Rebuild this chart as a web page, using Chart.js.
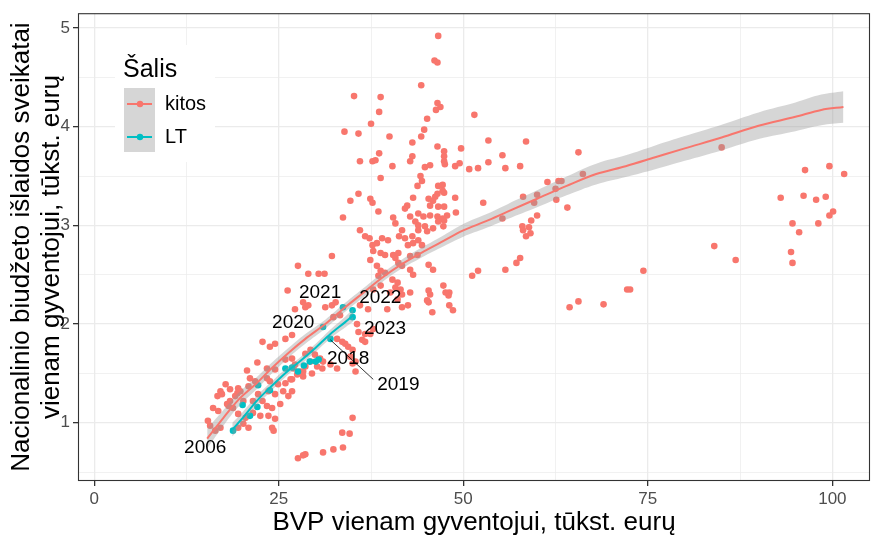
<!DOCTYPE html>
<html>
<head>
<meta charset="utf-8">
<script src="https://cdn.jsdelivr.net/npm/chart.js@4.4.1/dist/chart.umd.min.js"></script>
<style>
html,body{margin:0;padding:0;background:#fff;}
canvas{display:block;}
</style>
</head>
<body>
<canvas id="c" width="875" height="541" style="width:875px;height:541px"></canvas>
<script>
// ---- Data ----
const kitosX = [96.3,99.6,101.6,93.0,96.1,97.8,99.1,100.1,99.6,94.6,98.1,95.5,94.4,94.6,85.0,84.0,86.9,74.4,72.2,72.6,69.0,65.6,64.4,65.6,66.2,
53.4,58.5,49.7,47.4,47.4,47.4,47.5,48.9,49.5,50.8,52.0,53.4,55.3,55.7,57.7,47.2,47.4,48.9,47.4,49.0,47.8,47.4,47.3,52.7,61.4,62.9,63.3,62.5,60.0,58.1,59.6,62.6,64.1,55.3,60.0,59.2,58.0,58.1,58.9,58.5,59.1,57.7,57.2,55.7,52.0,51.2,47.3,48.1,48.0,48.1,48.6,
46.6,46.1,46.5,44.3,35.2,38.8,38.6,46.5,46.9,46.3,51.5,45.1,37.5,33.9,35.8,40.0,44.7,44.3,43.1,46.5,38.6,43.1,42.8,36.0,37.7,38.1,40.4,44.8,45.5,
38.8,44.2,44.4,43.8,46.6,47.2,46.5,46.2,35.8,34.7,37.4,37.7,38.5,43.2,42.4,42.1,45.3,45.9,45.5,46.6,43.9,44.6,45.5,46.5,47.2,42.8,43.5,43.9,44.8,43.9,45.1,45.9,46.6,33.7,40.5,40.8,41.7,41.3,42.1,43.1,43.2,43.9,44.4,42.5,36.0,36.7,37.3,37.7,38.3,39.0,39.8,37.8,38.8,39.4,37.4,40.8,41.2,41.7,38.3,38.8,38.5,39.4,40.4,41.1,40.8,41.5,42.8,43.2,45.3,45.9,41.7,42.8,45.3,47.6,32.2,
27.6,29.0,30.4,31.2,26.2,28.3,40.5,41.2,42.8,43.8,45.5,45.3,45.8,42.5,40.1,41.1,39.7,37.8,38.8,36.0,37.1,
27.2,28.6,29.0,31.3,32.2,32.7,41.7,45.1,35.6,35.8,36.7,36.3,36.7,32.9,33.6,34.0,34.4,35.0,34.7,35.4,35.0,35.4,31.0,32.0,32.9,29.3,28.6,27.9,29.5,26.8,35.0,33.6,34.6,33.7,32.4,31.0,28.6,28.3,27.6,27.0,27.5,28.3,26.6,30.2,32.4,33.3,37.4,37.8,
22.8,24.5,23.8,25.9,26.8,22.1,20.7,23.4,24.5,25.9,17.8,17.1,16.7,18.4,19.5,19.4,21.1,21.8,20.9,16.1,16.8,18.2,18.8,15.4,15.7,16.4,17.1,19.5,20.2,20.9,19.5,20.5,21.5,22.5,23.8,24.9,25.9,26.8,28.3,23.6,24.5,25.6,26.3,22.8,23.4,24.1,25.2,23.6,24.5,24.1,24.3,28.6,29.3,29.9,30.6,30.9,26.8,27.2,19.8,20.2,19.1,18.0,18.4,21.5,22.2,23.4,17.3];
const kitosY = [3.56,3.60,3.52,3.28,3.30,3.26,3.29,3.14,3.10,3.02,3.02,2.93,2.73,2.62,3.79,2.79,2.65,2.54,2.35,2.35,2.20,2.23,2.17,3.74,3.52,
3.86,3.85,3.78,3.75,3.70,3.65,3.62,3.60,3.63,3.57,3.58,3.64,3.71,3.58,3.60,3.41,3.33,3.28,3.19,3.13,3.10,3.05,2.99,3.23,3.44,3.45,3.45,3.37,3.31,3.29,3.23,3.26,3.18,3.07,3.10,3.05,2.99,2.95,2.98,2.89,2.92,2.67,2.62,2.55,2.54,2.49,2.39,2.32,2.29,2.19,2.14,
4.92,4.67,4.65,4.42,4.31,4.30,4.15,4.24,4.20,4.17,4.12,4.08,4.03,3.95,3.93,3.90,3.97,3.90,3.84,3.80,3.73,3.70,3.65,3.65,3.65,3.66,3.60,3.59,3.61,
3.48,3.50,3.45,3.40,3.40,3.35,3.32,3.29,3.32,3.25,3.27,3.23,3.14,3.28,3.20,3.17,3.27,3.25,3.20,3.19,3.12,3.09,3.10,3.09,3.07,3.09,3.04,3.00,2.99,2.95,2.94,2.97,3.04,3.08,3.08,3.02,2.95,2.89,2.87,2.89,2.82,2.85,2.80,2.80,2.95,2.89,2.87,2.80,2.82,2.87,2.85,2.74,2.72,2.70,2.65,2.67,2.62,2.59,2.59,2.54,2.49,2.52,2.45,2.42,2.37,2.35,2.55,2.50,2.60,2.55,2.30,2.32,2.34,2.32,2.69,
2.59,2.51,2.51,2.51,2.34,2.22,2.70,2.72,2.69,2.70,2.30,2.22,2.12,2.19,2.32,2.25,2.15,2.35,2.39,2.19,2.15,
2.15,2.17,2.19,2.17,2.19,2.22,2.17,2.24,2.00,1.92,1.90,1.84,1.82,1.85,1.82,1.80,1.77,1.74,1.67,1.62,1.60,1.52,1.62,1.59,1.55,1.62,1.57,1.52,1.50,1.32,1.05,0.90,0.89,0.75,0.73,0.70,0.68,0.67,0.64,1.55,1.49,1.47,1.44,1.57,2.07,2.09,1.90,1.95,
1.82,1.80,1.77,1.85,1.89,1.61,1.53,1.55,1.54,1.64,1.39,1.32,1.27,1.34,1.35,1.30,1.45,1.42,1.37,1.15,1.12,1.17,1.15,1.02,0.97,0.92,0.95,0.95,0.99,0.95,1.09,1.05,1.10,1.07,1.42,1.39,1.40,1.44,1.52,1.32,1.29,1.32,1.27,1.22,1.17,1.15,1.19,1.07,1.04,0.95,0.92,1.70,1.74,1.69,1.65,1.55,1.65,1.59,1.32,1.22,1.27,1.19,1.22,1.22,1.29,1.45,1.29];

const ltYears = [2006,2007,2008,2009,2010,2011,2012,2013,2014,2015,2016,2017,2018,2019,2020,2021,2022,2023];
const ltX = [18.8,20.1,21.1,22.1,22.2,23.8,25.9,26.8,27.6,28.4,29.2,30.0,30.4,32.0,31.0,33.7,35.0,35.0];
const ltY = [0.92,1.18,1.07,1.16,1.38,1.33,1.55,1.56,1.52,1.58,1.62,1.62,1.64,1.85,1.97,2.17,2.14,2.07];

// smooth curves with confidence bands
const kitosSmoothX = [15.3,17.5,19.5,22,24,26.5,28.6,31.3,34,36.5,39,41.5,44,47,50,53,56,60,64,68,72,76,80,85,90,95,98.5,101.5];
const kitosSmoothY = [0.84,1.05,1.23,1.40,1.55,1.72,1.85,2.00,2.17,2.32,2.47,2.60,2.71,2.83,2.95,3.04,3.14,3.27,3.40,3.52,3.60,3.69,3.78,3.89,4.01,4.10,4.17,4.20];
const kitosLo = [0.74,0.97,1.16,1.34,1.495,1.67,1.80,1.955,2.125,2.275,2.425,2.555,2.66,2.775,2.885,2.97,3.065,3.185,3.305,3.415,3.49,3.57,3.655,3.76,3.875,3.955,4.015,4.04];
const kitosHi = [0.94,1.13,1.30,1.46,1.605,1.77,1.90,2.045,2.215,2.365,2.515,2.645,2.76,2.885,3.015,3.11,3.215,3.355,3.495,3.625,3.71,3.81,3.905,4.02,4.145,4.245,4.325,4.36];

const ltSmoothX = [18.7,20,22,24,26,28,30,32,34,35.1];
const ltSmoothY = [0.93,1.04,1.22,1.37,1.51,1.63,1.76,1.90,2.02,2.09];
const ltLo = [0.86,0.98,1.17,1.325,1.47,1.59,1.72,1.855,1.965,2.025];
const ltHi = [1.00,1.10,1.27,1.415,1.55,1.67,1.80,1.945,2.075,2.155];

// labelled years and their text positions (data units)
const labelYears = ['2006','2018','2019','2020','2021','2022','2023'];
const labelX = [15.04,34.4,41.2,26.96,30.6,38.75,39.4];
const labelY = [0.75,1.65,1.39,2.01,2.32,2.27,1.95];
const leader2019 = {x0:32.0, y0:1.84, x1:37.8, y1:1.44};

const xTicks = [0,25,50,75,100];
const yTicks = [1,2,3,4,5];

// ---- Chart ----
const RED = '#F8766D', TEAL = '#00BFC4';
const BAND = 'rgba(153,153,153,0.4)';
const zip = (xs, ys) => xs.map((v,i)=>({x:v, y:ys[i]}));
const NARROW = "'Liberation Sans Narrow','Arial Narrow','Liberation Sans',sans-serif";
const SANS = "'Liberation Sans',Arial,sans-serif";

const custom = {
  id:'custom',
  beforeDraw(chart){
    const c = chart.ctx;
    c.save(); c.fillStyle='#fff'; c.fillRect(0,0,chart.width,chart.height); c.restore();
  },
  afterDraw(chart){
    const c = chart.ctx, a = chart.chartArea, sx = chart.scales.x, sy = chart.scales.y;
    c.save();
    // panel border
    c.strokeStyle = '#333333'; c.lineWidth = 1.1;
    c.strokeRect(a.left+0.5, a.top+0.5, a.right-a.left-1, a.bottom-a.top-1);
    // leader line for 2019
    c.strokeStyle = '#000'; c.lineWidth = 0.8;
    c.beginPath();
    c.moveTo(sx.getPixelForValue(leader2019.x0), sy.getPixelForValue(leader2019.y0));
    c.lineTo(sx.getPixelForValue(leader2019.x1), sy.getPixelForValue(leader2019.y1));
    c.stroke();
    // year labels
    c.fillStyle = '#000'; c.font = '19px '+SANS; c.textAlign='center'; c.textBaseline='middle';
    labelYears.forEach((t,i)=>c.fillText(t, sx.getPixelForValue(labelX[i]), sy.getPixelForValue(labelY[i])));
    // legend
    c.fillStyle = '#fff'; c.fillRect(115,45,100,117);
    c.fillStyle = '#000'; c.textAlign='left'; c.textBaseline='alphabetic';
    c.font = '25px '+SANS; c.fillText('Šalis',123,77);
    c.fillStyle = '#d6d6d6'; c.fillRect(124,88,31,64);
    [[RED,'kitos',104],[TEAL,'LT',137]].forEach(([col,txt,yy])=>{
      c.strokeStyle = col; c.lineWidth = 2;
      c.beginPath(); c.moveTo(127,yy); c.lineTo(152,yy); c.stroke();
      c.fillStyle = col; c.beginPath(); c.arc(140,yy,3.2,0,Math.PI*2); c.fill();
      c.fillStyle = '#000'; c.font = '20px '+SANS; c.textBaseline='middle'; c.fillText(txt,165,yy);
    });
    // axis titles
    c.fillStyle = '#000'; c.font = '26px '+SANS; c.textAlign='center'; c.textBaseline='middle';
    c.fillText('BVP vienam gyventojui, tūkst. eurų', (a.left+a.right)/2, 523);
    c.translate(0,(a.top+a.bottom)/2); c.rotate(-Math.PI/2);
    c.fillText('Nacionalinio biudžeto išlaidos sveikatai', 0, 22);
    c.fillText('vienam gyventojui, tūkst. eurų', 0, 52);
    c.restore();
  }
};

const isMajor = (v, step) => Math.abs(v/step - Math.round(v/step)) < 1e-6;

new Chart(document.getElementById('c'), {
  type:'scatter',
  data:{
    datasets:[
      {label:'kitos', data:zip(kitosX,kitosY), backgroundColor:RED, borderWidth:0, pointRadius:3.3, order:6},
      {label:'LT', data:zip(ltX,ltY), backgroundColor:TEAL, borderWidth:0, pointRadius:3.3, order:5},
      {label:'kitosLo', data:zip(kitosSmoothX,kitosLo), showLine:true, borderWidth:0, pointRadius:0, fill:false, tension:0.4, order:4},
      {label:'kitosHi', data:zip(kitosSmoothX,kitosHi), showLine:true, borderWidth:0, pointRadius:0, fill:{target:2}, backgroundColor:BAND, tension:0.4, order:4},
      {label:'ltLo', data:zip(ltSmoothX,ltLo), showLine:true, borderWidth:0, pointRadius:0, fill:false, tension:0.4, order:3},
      {label:'ltHi', data:zip(ltSmoothX,ltHi), showLine:true, borderWidth:0, pointRadius:0, fill:{target:4}, backgroundColor:BAND, tension:0.4, order:3},
      {label:'kitosFit', data:zip(kitosSmoothX,kitosSmoothY), showLine:true, borderColor:RED, borderWidth:2, pointRadius:0, fill:false, cubicInterpolationMode:'monotone', order:1},
      {label:'ltFit', data:zip(ltSmoothX,ltSmoothY), showLine:true, borderColor:TEAL, borderWidth:2, pointRadius:0, fill:false, cubicInterpolationMode:'monotone', order:0}
    ]
  },
  options:{
    responsive:false, animation:false, devicePixelRatio:1,
    layout:{padding:{top:7,right:5,left:0,bottom:0}},
    plugins:{legend:{display:false}, tooltip:{enabled:false}, filler:{propagate:false}},
    scales:{
      x:{type:'linear', min:-2.2, max:105.1,
        afterFit(s){ s.height = 60; },
        border:{display:false},
        grid:{color:'#EBEBEB', lineWidth:(ctx)=> isMajor(ctx.tick.value,25)?1.3:0.7,
              tickColor:(ctx)=> isMajor(ctx.tick.value,25)?'#333333':'rgba(0,0,0,0)', tickLength:5, drawTicks:true},
        ticks:{stepSize:12.5, includeBounds:false, autoSkip:false, maxRotation:0, padding:3,
               color:'#4D4D4D', font:{family:NARROW, size:17},
               callback:(v)=> xTicks.includes(v) ? String(v) : ''}
      },
      y:{type:'linear', min:0.41, max:5.15,
        afterFit(s){ s.width = 78; },
        border:{display:false},
        grid:{color:'#EBEBEB', lineWidth:(ctx)=> isMajor(ctx.tick.value,1)?1.3:0.7,
              tickColor:(ctx)=> isMajor(ctx.tick.value,1)?'#333333':'rgba(0,0,0,0)', tickLength:5, drawTicks:true},
        ticks:{stepSize:0.5, includeBounds:false, autoSkip:false, padding:3,
               color:'#4D4D4D', font:{family:NARROW, size:17},
               callback:(v)=> yTicks.includes(v) ? String(v) : ''}
      }
    }
  },
  plugins:[custom]
});
</script>
</body>
</html>
